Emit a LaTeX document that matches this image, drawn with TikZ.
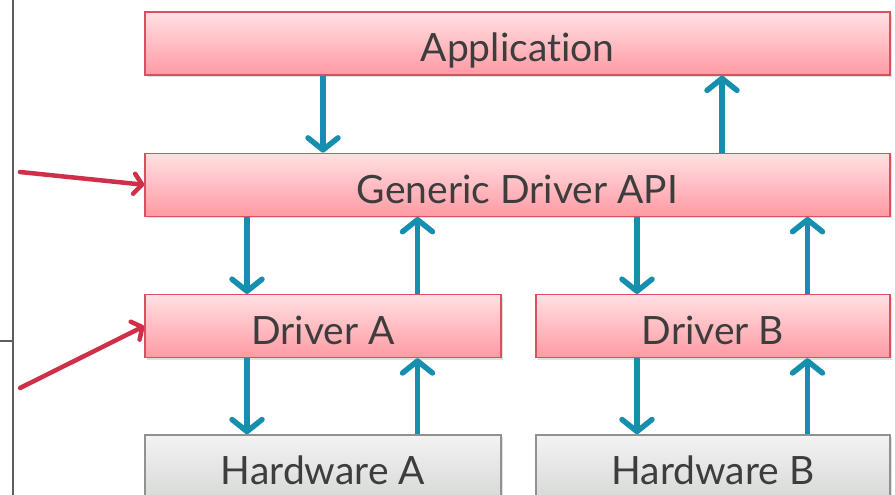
\documentclass[tikz,border=0pt]{standalone}
\usepackage{fontspec}
\setmainfont{Lato}[Ligatures=CommonOff]
\usetikzlibrary{arrows.meta,positioning,shadows}

\definecolor{boxline}{HTML}{D9505F}
\definecolor{boxtop}{HTML}{FFE0E3}
\definecolor{boxbot}{HTML}{FF9AA3}
\definecolor{hwline}{HTML}{909191}
\definecolor{hwtop}{HTML}{F2F3F2}
\definecolor{hwbot}{HTML}{D8DAD8}
\definecolor{txt}{HTML}{3D3D3D}
\definecolor{flowcol}{HTML}{168FAF}
\definecolor{hintcol}{HTML}{CF3049}
\definecolor{rulecol}{HTML}{5E5E5E}

\begin{document}
\begin{tikzpicture}[
    x=1pt, y=1pt,
    node distance=77pt,
    box/.style={draw=boxline, line width=1.3pt, top color=boxtop, bottom color=boxbot,
        minimum height=63pt, inner sep=0pt, text=txt, font=\fontsize{39}{39}\selectfont,
        text height=37pt, text depth=0pt,
        drop shadow={shadow xshift=1.5pt, shadow yshift=-2pt, opacity=0.25}},
    hw/.style={box, draw=hwline, top color=hwtop, bottom color=hwbot},
    flow/.style={-{Straight Barb[length=12pt, width=30pt, round]}, line width=5.5pt, draw=flowcol},
    hint/.style={-{Straight Barb[length=8pt, width=20pt, round]}, line width=4.5pt, draw=hintcol, line cap=round}
]
\useasboundingbox (0,0) rectangle (895,495);
\draw[rulecol, line width=1.6pt] (13,0) -- (13,495);
\draw[rulecol, line width=1.6pt] (0,154) -- (13,154);

\node[box, minimum width=745pt] (app) at (517.5,451.5) {Application};
\node[box, minimum width=745pt, below=of app] (api) {Generic Driver API};
\node[box, minimum width=356pt, below right=77pt and 0pt of api.south west] (drva) {Driver A};
\node[box, minimum width=354pt, below left=77pt and 0pt of api.south east]  (drvb) {Driver B};
\node[hw, minimum width=356pt, below=76pt of drva] (hwa) {Hardware A};
\node[hw, minimum width=354pt, below=76pt of drvb] (hwb) {Hardware B};

\draw[flow] ([xshift=-194.5pt]app.south) -- ([xshift=-194.5pt]app.south |- api.north);
\draw[flow] ([xshift=204.5pt]app.south |- api.north) -- ([xshift=204.5pt]app.south);
\foreach \d/\h in {drva/hwa, drvb/hwb} {
    \draw[flow] ([xshift=-76pt]\d.north |- api.south) -- ([xshift=-76pt]\d.north);
    \draw[flow] ([xshift=94.5pt]\d.north) -- ([xshift=94.5pt]\d.north |- api.south);
    \draw[flow] ([xshift=-76pt]\d.south) -- ([xshift=-76pt]\h.north);
    \draw[flow] ([xshift=94.5pt]\h.north) -- ([xshift=94.5pt]\d.south);
}

\coordinate (from api) at (20,323);
\coordinate (from drv) at (20,107);
\draw[hint] (from api) -- (api.west);
\draw[hint] (from drv) -- (drva.west);
\end{tikzpicture}
\end{document}
